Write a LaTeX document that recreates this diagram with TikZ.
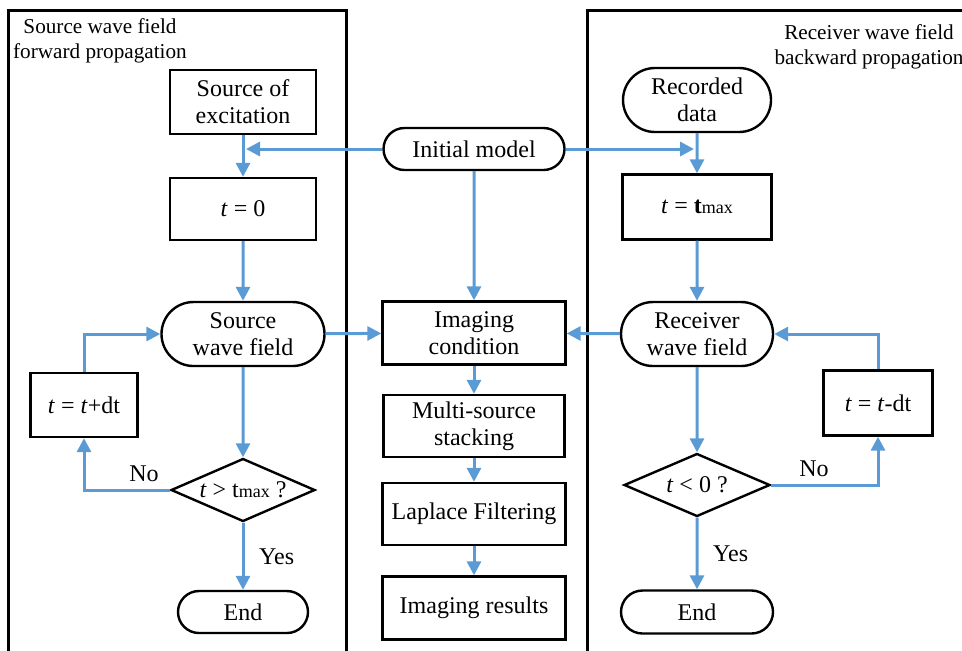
\documentclass[tikz,border=0pt]{standalone}
\usepackage{fontspec}
\setmainfont{Liberation Serif}
\newfontfamily\boxfont{Liberation Serif}
\usetikzlibrary{shapes.geometric,shapes.misc,arrows.meta}
\definecolor{flowblue}{RGB}{91,155,213}

\begin{document}
\begin{tikzpicture}[x=0.5pt,y=-0.5pt,
        font=\boxfont\fontsize{12}{13.5}\selectfont,
        box/.style={draw, line width=1.2pt, align=center, inner sep=0pt},
        term/.style={box, rounded rectangle},
        test/.style={box, diamond, aspect=2.3},
        flow/.style={draw=flowblue, line width=1.5pt, -{Triangle[length=7pt,width=7pt]}},
        panel/.style={draw, line width=1.5pt},
        title/.style={align=center, font=\boxfont\fontsize{10.6}{12.8}\selectfont}]
            \useasboundingbox (0,0) rectangle (962,650);
            \draw[panel] (8,670) -- (8,10) -- (346,10) -- (346,670);
            \draw[panel] (587,670) -- (587,10) -- (980,10);
            \node[title] (srctitle) at (100,41) {Source wave field\\forward propagation};
            \node[title] (rectitle) at (869,47) {Receiver wave field\\backward propagation};
            \node[box, minimum width=73pt, minimum height=32pt] (srcexc) at (243,102) {Source of\\excitation};
            \node[box, minimum width=73pt, minimum height=31pt] (tzero) at (243,209) {\textit{t} = 0};
            \node[term, minimum width=81.5pt, minimum height=32pt] (srcfield) at (243,334) {Source\\wave field};
            \node[box, minimum width=53.5pt, minimum height=32pt] (tplus) at (84,405) {\textit{t} = \textit{t}+dt};
            \node[test, minimum width=72pt, minimum height=31.5pt] (srcdec) at (243,490) {\textit{t} > t{\small max} ?};
            \node[term, minimum width=65pt, minimum height=21pt] (srcend) at (243,612) {End};
            \node[term, minimum width=90.5pt, minimum height=21pt] (init) at (474,149) {Initial model};
            \node[box, minimum width=91.5pt, minimum height=31.5pt] (imgcond) at (474,333) {Imaging\\condition};
            \node[box, minimum width=90.5pt, minimum height=31pt] (stack) at (474,426) {Multi-source\\stacking};
            \node[box, minimum width=91.5pt, minimum height=31pt] (laplace) at (474,514) {Laplace Filtering};
            \node[box, minimum width=91.5pt, minimum height=31.5pt] (result) at (474,608) {Imaging results};
            \node[term, minimum width=74pt, minimum height=32pt] (recdata) at (697,100) {Recorded\\data};
            \node[box, minimum width=74.5pt, minimum height=32.5pt] (tmax) at (697,207) {\textit{t} = \textbf{t}{\small max}};
            \node[term, minimum width=76pt, minimum height=32pt] (recfield) at (697,334) {Receiver\\wave field};
            \node[box, minimum width=54.5pt, minimum height=32.5pt] (tminus) at (878,403) {\textit{t} = \textit{t}-dt};
            \node[test, minimum width=73pt, minimum height=31.5pt] (recdec) at (697,485) {\textit{t} < 0 ?};
            \node[term, minimum width=76pt, minimum height=21.5pt] (recend) at (697,612) {End};
            \draw[flow] (srcexc) -- (tzero);
            \draw[flow, shorten >=1.5pt] (init.west) -- (init.west -| tzero.north);
            \draw[flow, shorten >=1.5pt] (init.east) -- (init.east -| tmax.north);
            \draw[flow] (recdata) -- (tmax);
            \draw[flow] (tzero) -- (srcfield);
            \draw[flow] (tmax) -- (recfield);
            \draw[flow] (srcfield) -- (srcdec);
            \draw[flow] (srcdec) -- node[right=4pt] {Yes} (srcend);
            \draw[flow] (srcdec.west) -| node[pos=0.15, above] {No} (tplus.south);
            \draw[flow] (tplus.north) |- (srcfield.west);
            \draw[flow] (recfield) -- (recdec);
            \draw[flow] (recdec) -- node[right=4pt] {Yes} (recend);
            \draw[flow] (recdec.east) -| node[pos=0.2, above] {No} (tminus.south);
            \draw[flow] (tminus.north) |- (recfield.east);
            \draw[flow] (srcfield) -- (imgcond);
            \draw[flow] (recfield) -- (imgcond);
            \draw[flow] (init) -- (imgcond);
            \draw[flow] (imgcond) -- (stack);
            \draw[flow] (stack) -- (laplace);
            \draw[flow] (laplace) -- (result);
        \end{tikzpicture}
\end{document}
